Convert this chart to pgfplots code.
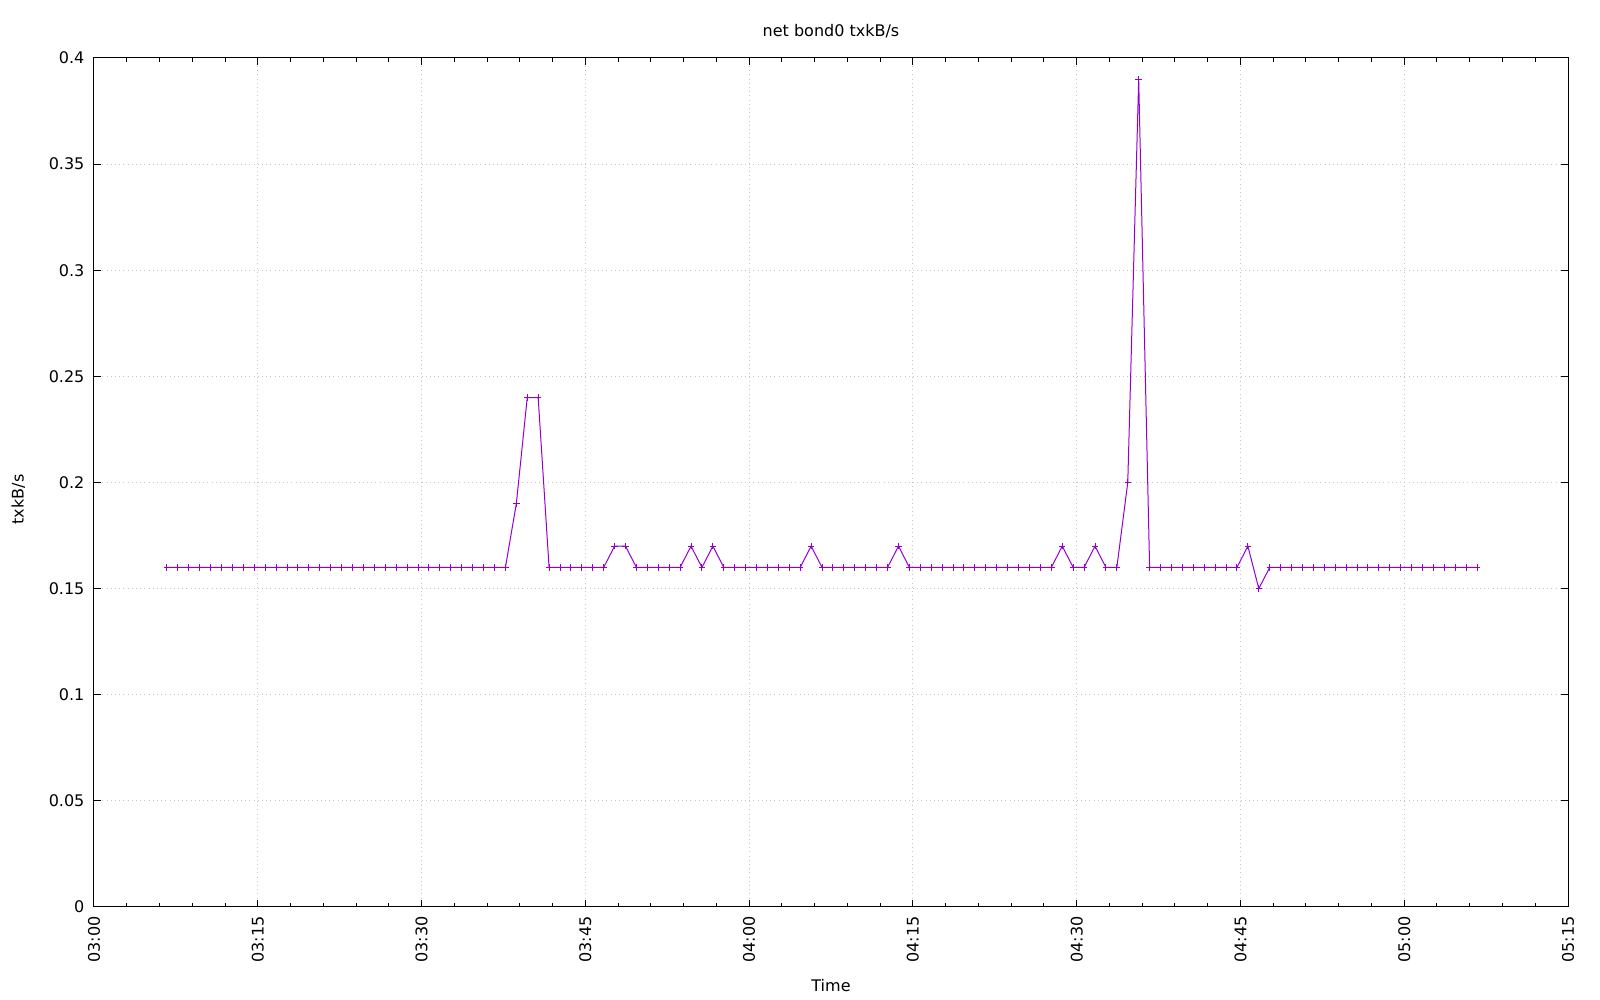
\documentclass[border=0pt]{standalone}
\usepackage{pgfplots}
\pgfplotsset{compat=1.18}
\usepackage{fontspec}
\setmainfont{DejaVu Sans}
\definecolor{gpviolet}{RGB}{148,0,211}
\begin{document}
\fontsize{8}{10}\selectfont
\begin{tikzpicture}
\begin{axis}[
  scale only axis,
  width=737pt, height=424.5pt,
  xmin=0, xmax=135, ymin=0, ymax=0.4,
  xtick={0,15,30,45,60,75,90,105,120,135},
  xticklabels={03:00,03:15,03:30,03:45,04:00,04:15,04:30,04:45,05:00,05:15},
  minor x tick num=4,
  ytick={0,0.05,0.1,0.15,0.2,0.25,0.3,0.35,0.4},
  yticklabels={0,0.05,0.1,0.15,0.2,0.25,0.3,0.35,0.4},
  tick align=inside,
  major tick length=3.5pt,
  minor tick length=2pt,
  tick style={black, line width=0.5pt},
  axis line style={black, line width=0.5pt},
  grid=major,
  major grid style={gray!45, line width=0.5pt, dash pattern=on 0.5pt off 1.6pt},
  xticklabel style={yshift=-4.5pt, rotate=90, anchor=east, inner sep=0pt, font=\fontsize{8}{10}\selectfont},
  yticklabel style={xshift=-4.6pt, anchor=east, inner sep=0pt, font=\fontsize{8}{10}\selectfont},
  title={net bond0 txkB/s},
  title style={at={(0.5,1)}, anchor=center, yshift=7.65pt, inner sep=0pt, font=\fontsize{8}{10}\selectfont},
  xlabel={Time},
  xlabel style={at={(0.5,0)}, anchor=center, yshift=-39.5pt, inner sep=0pt, font=\fontsize{8}{10}\selectfont},
  ylabel={txkB/s},
  ylabel style={at={(0,0.48)}, anchor=center, yshift=37.8pt, inner sep=0pt, font=\fontsize{8}{10}\selectfont},
]
\addplot[color=gpviolet, line width=0.5pt, mark=+, mark size=1.6pt, mark options={line width=0.5pt}] coordinates {
(6.68,0.16) (7.68,0.16) (8.68,0.16) (9.68,0.16) (10.68,0.16) (11.68,0.16) (12.68,0.16) (13.68,0.16)
(14.68,0.16) (15.68,0.16) (16.68,0.16) (17.68,0.16) (18.68,0.16) (19.68,0.16) (20.68,0.16) (21.68,0.16)
(22.68,0.16) (23.68,0.16) (24.68,0.16) (25.68,0.16) (26.68,0.16) (27.68,0.16) (28.68,0.16) (29.68,0.16)
(30.68,0.16) (31.68,0.16) (32.68,0.16) (33.68,0.16) (34.68,0.16) (35.68,0.16) (36.68,0.16) (37.68,0.16)
(38.68,0.19) (39.68,0.24) (40.68,0.24)
(41.68,0.16) (42.68,0.16) (43.68,0.16) (44.68,0.16) (45.68,0.16) (46.68,0.16)
(47.68,0.17) (48.68,0.17)
(49.68,0.16) (50.68,0.16) (51.68,0.16) (52.68,0.16) (53.68,0.16)
(54.68,0.17) (55.68,0.16) (56.68,0.17)
(57.68,0.16) (58.68,0.16) (59.68,0.16) (60.68,0.16) (61.68,0.16) (62.68,0.16) (63.68,0.16) (64.68,0.16)
(65.68,0.17)
(66.68,0.16) (67.68,0.16) (68.68,0.16) (69.68,0.16) (70.68,0.16) (71.68,0.16) (72.68,0.16)
(73.68,0.17)
(74.68,0.16) (75.68,0.16) (76.68,0.16) (77.68,0.16) (78.68,0.16) (79.68,0.16) (80.68,0.16) (81.68,0.16)
(82.68,0.16) (83.68,0.16) (84.68,0.16) (85.68,0.16) (86.68,0.16) (87.68,0.16)
(88.68,0.17) (89.68,0.16) (90.68,0.16) (91.68,0.17) (92.68,0.16) (93.68,0.16)
(94.68,0.20) (95.68,0.39)
(96.68,0.16) (97.68,0.16) (98.68,0.16) (99.68,0.16) (100.68,0.16) (101.68,0.16) (102.68,0.16) (103.68,0.16) (104.68,0.16)
(105.68,0.17) (106.68,0.15)
(107.68,0.16) (108.68,0.16) (109.68,0.16) (110.68,0.16) (111.68,0.16) (112.68,0.16) (113.68,0.16) (114.68,0.16)
(115.68,0.16) (116.68,0.16) (117.68,0.16) (118.68,0.16) (119.68,0.16) (120.68,0.16) (121.68,0.16) (122.68,0.16)
(123.68,0.16) (124.68,0.16) (125.68,0.16) (126.68,0.16)
};
\coordinate (ll) at (rel axis cs:0,0);
\coordinate (ur) at (rel axis cs:1,1);
\end{axis}
\path ([xshift=-47pt,yshift=-46.5pt]ll) rectangle ([xshift=16pt,yshift=29pt]ur);
\end{tikzpicture}
\end{document}
